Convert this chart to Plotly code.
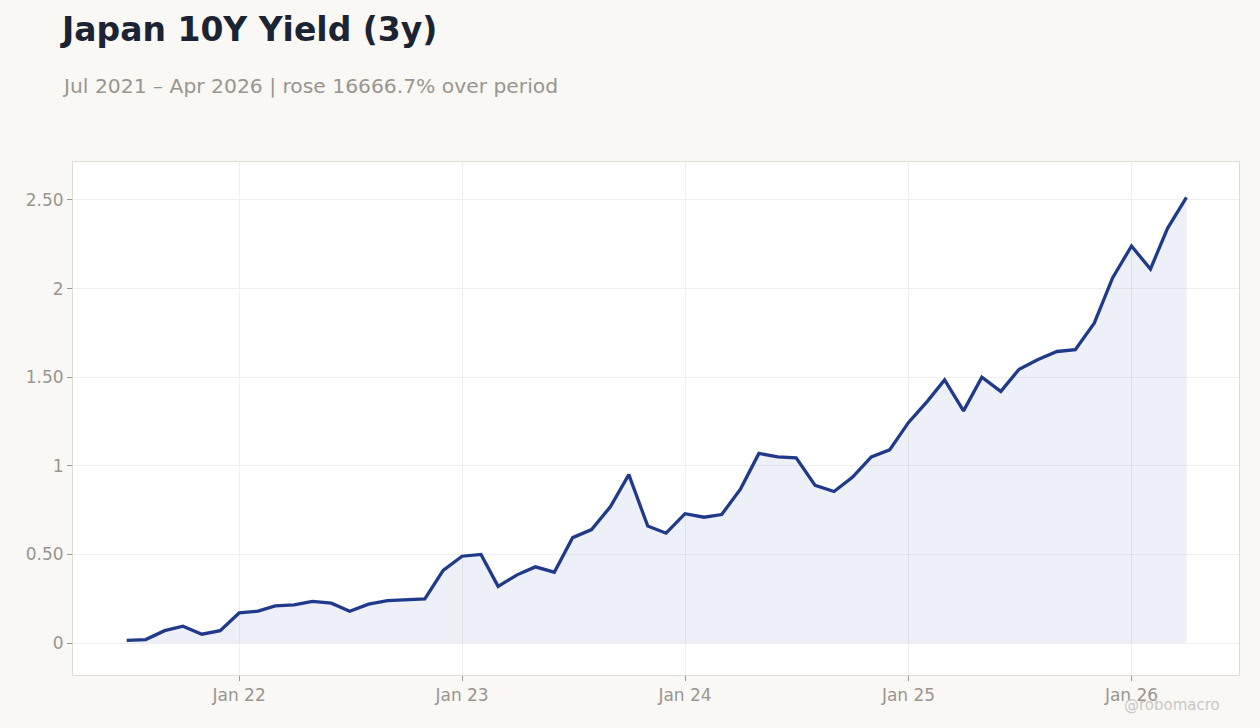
import pandas as pd
import plotly.graph_objects as go

# monthly readings, Jul 2021 .. Apr 2026
dates = pd.date_range('2021-07-01', '2026-04-01', freq='MS')
yields = [
    0.015, 0.02, 0.07, 0.095, 0.05, 0.07,
    0.17, 0.18, 0.21, 0.215, 0.235, 0.225, 0.18, 0.22, 0.24, 0.245, 0.25, 0.41,
    0.49, 0.50, 0.32, 0.385, 0.43, 0.40, 0.595, 0.64, 0.77, 0.95, 0.66, 0.62,
    0.73, 0.71, 0.725, 0.87, 1.07, 1.05, 1.045, 0.89, 0.855, 0.935, 1.05, 1.09,
    1.245, 1.365, 1.485, 1.31, 1.50, 1.42, 1.545, 1.60, 1.645, 1.655, 1.805, 2.06,
    2.24, 2.11, 2.34, 2.515,
]
y_ticks = [0, 0.5, 1, 1.5, 2, 2.5]
y_tick_text = ['0', '0.50', '1', '1.50', '2', '2.50']
x_ticks = ['2022-01-01', '2023-01-01', '2024-01-01', '2025-01-01', '2026-01-01']
x_tick_text = ['Jan 22', 'Jan 23', 'Jan 24', 'Jan 25', 'Jan 26']

df = pd.DataFrame({'date': dates, 'value': yields})

fig = go.Figure()
fig.add_trace(go.Scatter(
    x=df['date'], y=df['value'],
    mode='lines',
    line=dict(color='#1f3a8a', width=3.3),
    fill='tozeroy',
    fillcolor='rgba(31,58,138,0.08)',
    hoverinfo='x+y',
))

grey = '#99958f'
fig.update_layout(
    width=1260, height=728,
    paper_bgcolor='#f9f8f5',
    plot_bgcolor='white',
    font=dict(family='DejaVu Sans', color=grey, size=17),
    margin={'l': 73, 'r': 21, 't': 162, 'b': 53},
    showlegend=False,
)
fig.update_xaxes(
    range=['2021-04-04', '2026-06-26'],
    tickvals=x_ticks, ticktext=x_tick_text,
    showgrid=True, gridcolor='#f0efef',
    ticks='outside', ticklen=5, tickcolor='#999999',
    showline=True, linecolor='#e0dcd4', mirror=True,
    zeroline=False,
)
fig.update_yaxes(
    range=[-0.18, 2.714],
    tickvals=y_ticks, ticktext=y_tick_text,
    showgrid=True, gridcolor='#f0efef',
    ticks='outside', ticklen=5, tickcolor='#999999',
    showline=True, linecolor='#e0dcd4', mirror=True,
    zeroline=False,
)

fig.add_annotation(text='<b>Japan 10Y Yield (3y)</b>', xref='paper', yref='paper',
                   x=-0.0125, y=1.258, xanchor='left', yanchor='middle', showarrow=False,
                   font=dict(size=33, color='#1c2434', family='DejaVu Sans'))
fig.add_annotation(text='Jul 2021 – Apr 2026 | rose 16666.7% over period',
                   xref='paper', yref='paper', x=-0.0115, y=1.148,
                   xanchor='left', yanchor='middle', showarrow=False,
                   font=dict(size=20.3, color=grey))
fig.add_annotation(text='@robomacro', xref='paper', yref='paper',
                   x=0.985, y=-0.059, xanchor='right', yanchor='middle', showarrow=False,
                   font=dict(size=15, color='#c9c7c4'))

# drop the default body margin so the figure sits at the page corner
fig.write_html('out.html', config={'displayModeBar': False},
               post_script="document.body.style.margin='0';")
